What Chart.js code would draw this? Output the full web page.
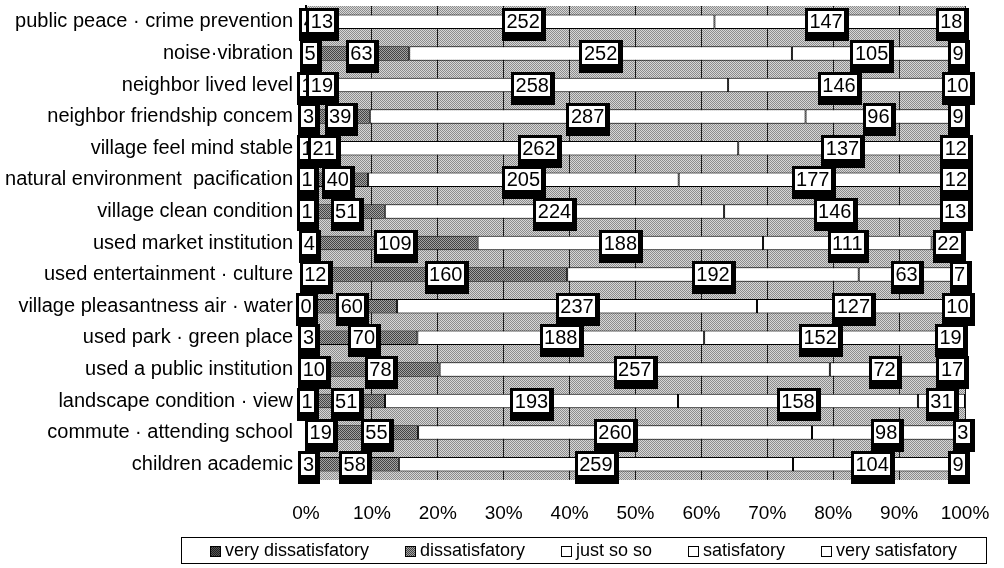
<!DOCTYPE html>
<html>
<head>
<meta charset="utf-8">
<script src="https://cdn.jsdelivr.net/npm/chart.js@4.4.1/dist/chart.umd.min.js"></script>
<style>
  html, body { margin: 0; padding: 0; background: #fff; }
  #wrap { width: 1004px; height: 568px; }
</style>
</head>
<body>
<div id="wrap"><canvas id="c" width="1004" height="568"></canvas></div>
<script>
// Survey items (top to bottom)
const categories = [
  'public peace \u00b7 crime prevention',
  'noise\u00b7vibration',
  'neighbor lived level',
  'neighbor friendship concem',
  'village feel mind stable',
  'natural environment  pacification',
  'village clean condition',
  'used market institution',
  'used entertainment \u00b7 culture',
  'village pleasantness air \u00b7 water',
  'used park \u00b7 green place',
  'used a public institution',
  'landscape condition \u00b7 view',
  'commute \u00b7 attending school',
  'children academic'
];

// Response counts per item
const veryDissatisfied = [4, 5, 1, 3, 1, 1, 1, 4, 12, 0, 3, 10, 1, 19, 3];
const dissatisfied     = [13, 63, 19, 39, 21, 40, 51, 109, 160, 60, 70, 78, 51, 55, 58];
const justSoSo         = [252, 252, 258, 287, 262, 205, 224, 188, 192, 237, 188, 257, 193, 260, 259];
const satisfied        = [147, 105, 146, 96, 137, 177, 146, 111, 63, 127, 152, 72, 158, 98, 104];
const verySatisfied    = [18, 9, 10, 9, 12, 12, 13, 22, 7, 10, 19, 17, 31, 3, 9];

const seriesNames = ['very dissatisfatory', 'dissatisfatory', 'just so so', 'satisfatory', 'very satisfatory'];
const xTickLabels = ['0%', '10%', '20%', '30%', '40%', '50%', '60%', '70%', '80%', '90%', '100%'];

const seriesCounts = [veryDissatisfied, dissatisfied, justSoSo, satisfied, verySatisfied];
const totals = categories.map((_, i) => seriesCounts.reduce((s, arr) => s + arr[i], 0));

// Stippled greys
function stipple(a, b, size) {
  const cv = document.createElement('canvas');
  cv.width = size; cv.height = size;
  const g = cv.getContext('2d');
  g.fillStyle = a; g.fillRect(0, 0, size, size);
  g.fillStyle = b;
  for (let y = 0; y < size; y++) {
    for (let x = 0; x < size; x++) {
      if ((x + y) % 2 === 0) g.fillRect(x, y, 1, 1);
    }
  }
  return g.createPattern(cv, 'repeat');
}
const ctx = document.getElementById('c').getContext('2d');
const bgPattern = stipple('#d6d6d6', '#8c8c8c', 4);
const darkPattern = stipple('#555555', '#1e1e1e', 4);
const midPattern = stipple('#a2a2a2', '#444444', 4);
const fills = [darkPattern, midPattern, '#ffffff', '#ffffff', '#ffffff'];

const FONT = "'Liberation Sans', Arial, sans-serif";

const plotBackground = {
  id: 'plotBackground',
  beforeDraw(chart) {
    const { ctx, chartArea: a } = chart;
    ctx.save();
    ctx.fillStyle = bgPattern;
    ctx.fillRect(a.left, a.top, a.right - a.left, a.bottom - a.top);
    ctx.restore();
  }
};

const boxedLabels = {
  id: 'boxedLabels',
  afterDatasetsDraw(chart) {
    const { ctx } = chart;
    ctx.save();
    ctx.font = '20px ' + FONT;
    ctx.textAlign = 'center';
    ctx.textBaseline = 'middle';
    chart.data.datasets.forEach((ds, di) => {
      const meta = chart.getDatasetMeta(di);
      meta.data.forEach((bar, i) => {
        const txt = String(ds.counts[i]);
        const cx = (bar.x + bar.base) / 2;
        const cy = bar.y;
        const w = ctx.measureText(txt).width + 3;
        const h = 21;
        ctx.fillStyle = '#000';
        ctx.fillRect(Math.round(cx - w / 2 - 3), Math.round(cy - h / 2 - 3), Math.round(w + 8), h + 12);
        ctx.fillStyle = '#fff';
        ctx.fillRect(Math.round(cx - w / 2), Math.round(cy - h / 2), Math.round(w), h);
        ctx.fillStyle = '#000';
        ctx.fillText(txt, cx, cy + 1);
      });
    });
    ctx.restore();
  }
};

const boxedLegend = {
  id: 'boxedLegend',
  afterDraw(chart) {
    const { ctx } = chart;
    const box = { left: 181, right: 986, top: 537, bottom: 563 };
    ctx.save();
    ctx.font = '18px ' + FONT;
    ctx.textBaseline = 'middle';
    ctx.textAlign = 'left';
    ctx.strokeStyle = '#000';
    ctx.lineWidth = 1;
    ctx.strokeRect(box.left + 0.5, box.top + 0.5, box.right - box.left, box.bottom - box.top);
    const sw = 11, gapText = 4, gapItem = 36;
    const widths = seriesNames.map(n => ctx.measureText(n).width);
    const total = widths.reduce((s, w) => s + w + sw + gapText, 0) + gapItem * (seriesNames.length - 1);
    let x = (box.left + box.right) / 2 - total / 2;
    const cy = (box.top + box.bottom) / 2 + 1;
    seriesNames.forEach((n, i) => {
      ctx.fillStyle = fills[i];
      ctx.fillRect(Math.round(x), Math.round(cy - sw / 2), sw, sw);
      ctx.strokeRect(Math.round(x) + 0.5, Math.round(cy - sw / 2) + 0.5, sw - 1, sw - 1);
      ctx.fillStyle = '#000';
      ctx.fillText(n, x + sw + gapText, cy);
      x += sw + gapText + widths[i] + gapItem;
    });
    ctx.restore();
  }
};

new Chart(ctx, {
  type: 'bar',
  data: {
    labels: categories,
    datasets: seriesCounts.map((arr, di) => ({
      label: seriesNames[di],
      counts: arr,
      data: arr.map((v, i) => v / totals[i] * 100),
      backgroundColor: fills[di],
      borderColor: '#000',
      borderWidth: 1,
      borderSkipped: false,
      barPercentage: 0.46,
      categoryPercentage: 1
    }))
  },
  options: {
    indexAxis: 'y',
    responsive: false,
    animation: false,
    layout: { padding: { left: 0, right: 39, top: 6, bottom: 38 } },
    plugins: { legend: { display: false }, tooltip: { enabled: false } },
    scales: {
      x: {
        stacked: true,
        min: 0,
        max: 100,
        ticks: {
          stepSize: 10,
          color: '#000',
          font: { family: FONT, size: 19 },
          padding: 22,
          callback: (v, i) => xTickLabels[i]
        },
        grid: { color: '#1a1a1a', lineWidth: 1, drawTicks: false },
        border: { display: false },
        afterFit(scale) { scale.height = 50; scale.paddingLeft = 0; scale.paddingRight = 0; }
      },
      y: {
        stacked: true,
        ticks: {
          color: '#000',
          font: { family: FONT, size: 20 },
          padding: 13,
          autoSkip: false
        },
        grid: { display: false, drawTicks: false },
        border: { display: true, color: '#000', width: 2 },
        afterFit(scale) { scale.width = 306; scale.paddingTop = 0; scale.paddingBottom = 0; }
      }
    }
  },
  plugins: [plotBackground, boxedLabels, boxedLegend]
});
</script>
</body>
</html>
